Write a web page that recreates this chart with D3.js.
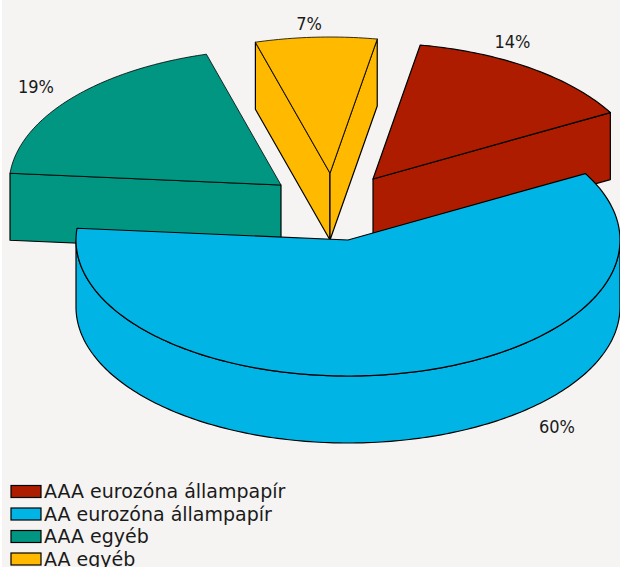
<!DOCTYPE html>
<meta charset="utf-8">
<style>
  html, body { margin: 0; padding: 0; background: #fff; }
  svg { display: block; }
  text { font-family: "DejaVu Sans", sans-serif; fill: #1a1a1a; }
  .pct { font-family: "DejaVu Sans Condensed", "DejaVu Sans", sans-serif; }
  .face { stroke: #000; stroke-width: 1.2px; stroke-linejoin: round; }
  .cut { stroke-width: 0.8px; }
</style>
<svg width="620" height="567"></svg>
<script src="https://d3js.org/d3.v7.min.js"></script>
<script>
  var categories = ["AAA eurozóna állampapír", "AA eurozóna állampapír", "AAA egyéb", "AA egyéb"];
  var values = [14.1, 59.5, 19.2, 7.2];
  var colors = ["#ae1c00", "#00b5e5", "#009682", "#ffba00"];

  var svg = d3.select("svg"),
    width = +svg.attr("width"),
    height = +svg.attr("height");

  // ellipse and wall height of the fake 3d pie
  var rx = 272, ry = 136, depth = 67;
  var rad = Math.PI / 180;

  // exploded apex of each slice, same order as categories
  var apex = [[373, 179], [348, 240], [281, 185], [330, 173]];
  var labelPos = [[512.5, 47.5], [557, 432.5], [36, 92.5], [309, 29.5]];
  var drawOrder = [2, 3, 0, 1];

  var color = d3.scaleOrdinal().domain(categories).range(colors);

  var pie = d3.pie().sort(null)
    .startAngle(10 * rad)
    .endAngle(370 * rad);
  var arcs = pie(values);

  function pt(c, a, dz) {
    return [c[0] + rx * Math.sin(a), c[1] - ry * Math.cos(a) + (dz || 0)];
  }

  function arcPoints(c, a0, a1, dz) {
    var n = Math.max(2, Math.ceil((a1 - a0) / rad));
    return d3.range(n + 1).map(function(i) {
      return pt(c, a0 + (a1 - a0) * i / n, dz);
    });
  }

  var line = d3.line();

  svg.append("rect")
    .attr("x", 2).attr("y", 0)
    .attr("width", width - 2).attr("height", height)
    .attr("fill", "#f5f4f2");

  var chart = svg.append("g");

  drawOrder.forEach(function(i) {
    var d = arcs[i], c = apex[i], fill = color(categories[i]);
    var g = chart.append("g").attr("fill", fill);

    // cut faces that look towards the viewer
    [[d.startAngle, Math.sin(d.startAngle) < 0], [d.endAngle, Math.sin(d.endAngle) > 0]]
      .forEach(function(f) {
        if (!f[1]) return;
        var p = pt(c, f[0]), q = pt(c, f[0], depth);
        g.append("path").attr("class", "face")
          .attr("d", line([c, p, q, [c[0], c[1] + depth]]) + "Z");
      });

    // outer wall, only the front half of the ellipse shows
    var w0 = Math.max(d.startAngle, 90 * rad), w1 = Math.min(d.endAngle, 270 * rad);
    if (w1 > w0) {
      g.append("path").attr("class", "face")
        .attr("d", line(arcPoints(c, w0, w1, 0).concat(arcPoints(c, w0, w1, depth).reverse())) + "Z");
    }

    g.append("path").attr("class", i == 2 || i == 3 ? "face cut" : "face")
      .attr("d", line([c].concat(arcPoints(c, d.startAngle, d.endAngle, 0))) + "Z");

    svg.append("text")
      .attr("class", "pct")
      .attr("x", labelPos[i][0]).attr("y", labelPos[i][1])
      .attr("text-anchor", "middle")
      .attr("font-size", 18)
      .text(Math.round(values[i]) + "%");
  });

  // legend
  var y = d3.scalePoint().domain(categories).range([491.5, 559]);

  var legend = svg.append("g").selectAll("g")
    .data(categories)
    .enter().append("g")
    .attr("transform", function(d) { return "translate(0," + y(d) + ")"; });

  legend.append("rect")
    .attr("x", 11).attr("y", -6)
    .attr("width", 30).attr("height", 12)
    .attr("fill", function(d) { return color(d); })
    .attr("stroke", "#000")
    .attr("stroke-width", 1.2);

  legend.append("text")
    .attr("x", 44).attr("y", 6.5)
    .attr("font-size", 19)
    .text(function(d) { return d; });
</script>
